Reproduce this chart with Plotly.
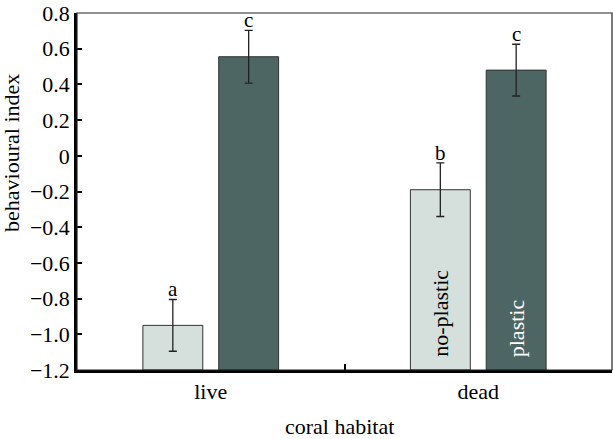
import plotly.graph_objects as go

categories = ["live", "dead"]
no_plastic = [-0.95, -0.19]
no_plastic_err = [0.145, 0.15]
plastic = [0.555, 0.48]
plastic_err = [0.148, 0.145]
no_plastic_letters = ["a", "b"]
plastic_letters = ["c", "c"]
inside_np = ["", "no-plastic"]
inside_p = ["", "plastic"]
y_tickvals = [0.8, 0.6, 0.4, 0.2, 0, -0.2, -0.4, -0.6, -0.8, -1.0, -1.2]
y_ticktext = ["0.8", "0.6", "0.4", "0.2", "0", "\u22120.2", "\u22120.4", "\u22120.6",
              "\u22120.8", "\u22121.0", "\u22121.2"]
x_title = "coral habitat"
y_title = "behavioural index"
BASE = -1.2

FONT = "Liberation Serif"
LIGHT = "#d5e0dd"
DARK = "#4e6663"

fig = go.Figure()
fig.add_trace(go.Bar(
    x=categories, y=[v - BASE for v in no_plastic], base=BASE, name="no-plastic",
    marker=dict(color=LIGHT, line=dict(color="#333", width=1)),
    error_y=dict(type="data", array=no_plastic_err, color="#222", thickness=1.3, width=4),
    hoverinfo="skip",
))
fig.add_trace(go.Bar(
    x=categories, y=[v - BASE for v in plastic], base=BASE, name="plastic",
    marker=dict(color=DARK, line=dict(color="#333", width=1)),
    error_y=dict(type="data", array=plastic_err, color="#222", thickness=1.3, width=4),
    hoverinfo="skip",
))

for i, c in enumerate(categories):
    fig.add_annotation(x=c, y=no_plastic[i] + no_plastic_err[i], text=no_plastic_letters[i],
                       showarrow=False, xshift=-38, yanchor="bottom", yshift=-4,
                       font=dict(family=FONT, size=21, color="black"))
    fig.add_annotation(x=c, y=plastic[i] + plastic_err[i], text=plastic_letters[i],
                       showarrow=False, xshift=38, yanchor="bottom", yshift=-4,
                       font=dict(family=FONT, size=21, color="black"))
    if inside_np[i]:
        fig.add_annotation(x=c, y=BASE, text=inside_np[i], textangle=-90,
                           showarrow=False, xshift=-38, yanchor="bottom", yshift=11,
                           font=dict(family=FONT, size=22, color="black"))
    if inside_p[i]:
        fig.add_annotation(x=c, y=BASE, text=inside_p[i], textangle=-90,
                           showarrow=False, xshift=38, yanchor="bottom", yshift=11,
                           font=dict(family=FONT, size=22, color="white"))

# axis titles (positioned as in the original figure)
fig.add_annotation(xref="paper", yref="paper", x=-0.1215, y=0.608, text=y_title,
                   textangle=-90, showarrow=False, xanchor="center", yanchor="middle",
                   font=dict(family=FONT, size=22, color="black"))
fig.add_annotation(xref="paper", yref="paper", x=0.49, y=-0.158, text=x_title,
                   showarrow=False, xanchor="center", yanchor="middle",
                   font=dict(family=FONT, size=22, color="black"))

fig.add_shape(type="rect", xref="paper", yref="paper", x0=0, y0=0, x1=1, y1=1,
              line=dict(color="#222", width=1.2), layer="above")

fig.update_layout(
    width=613, height=439,
    margin=dict(l=77, r=1, t=13, b=69),
    paper_bgcolor="white", plot_bgcolor="white",
    barmode="group", bargap=0.433, bargroupgap=0.21,
    showlegend=False,
    font=dict(family=FONT, size=22, color="black"),
    xaxis=dict(
        range=[-0.5, 1.5], tickson="boundaries", ticks="inside", ticklen=6,
        tickwidth=1.5, tickcolor="black",
        showline=True, linecolor="black", linewidth=2.5,
        showgrid=False, zeroline=False,
        tickfont=dict(family=FONT, size=22),
    ),
    yaxis=dict(
        range=[-1.2, 0.8], tickvals=y_tickvals, ticktext=y_ticktext,
        ticks="inside", ticklen=5, tickwidth=1.5, tickcolor="black",
        showline=True, linecolor="black", linewidth=2.5,
        showgrid=False, zeroline=False, ticklabelstandoff=0,
        tickfont=dict(family=FONT, size=22),
    ),
)

fig.write_html(
    "out.html",
    config={"displayModeBar": False},
    post_script="document.body.style.margin='0';document.body.style.overflow='hidden';",
)
